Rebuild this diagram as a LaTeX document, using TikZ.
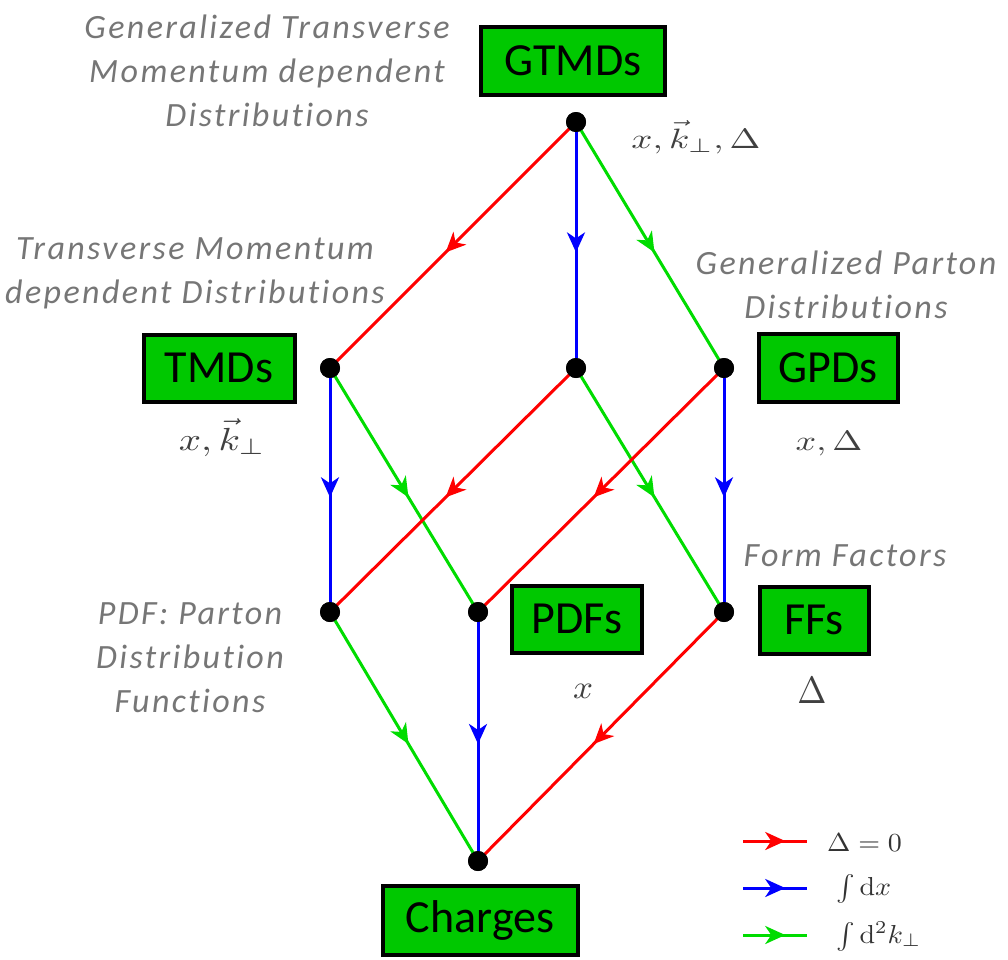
\documentclass[tikz,border=0pt]{standalone}
\usepackage[no-math]{fontspec}
\usepackage{graphicx}
\setmainfont{Carlito}
\newfontfamily\descfont[LetterSpace=7,Ligatures=NoCommon]{Carlito}
\usetikzlibrary{arrows.meta,decorations.markings}
\definecolor{boxgreen}{RGB}{0,200,0}
\definecolor{lred}{RGB}{255,0,0}
\definecolor{lblue}{RGB}{0,0,255}
\definecolor{lgreen}{RGB}{0,220,0}
\definecolor{labgray}{RGB}{118,118,118}
\tikzset{
  dot/.style={circle,fill=black,inner sep=0pt,minimum size=20pt},
  namebox/.style={draw=black,line width=4pt,fill=boxgreen,inner sep=0pt,
    font=\fontsize{46}{52}\selectfont},
  desc/.style={text=labgray,align=center,font=\descfont\fontsize{34}{44}\selectfont\itshape},
  mathlab/.style={text=black!75,anchor=base,inner sep=0pt},
  leglab/.style={text=black!80,anchor=base west,inner sep=0pt},
  conn/.style={line width=3pt,postaction={decorate},
    decoration={markings,mark=at position 0.53 with {\arrow{Stealth[length=20pt,width=18pt,inset=6pt]}}}},
  legconn/.style={line width=3pt,postaction={decorate},
    decoration={markings,mark=at position 0.66 with {\arrow{Stealth[length=20pt,width=18pt,inset=6pt]}}}},
  rd/.style={conn,draw=lred},
  bl/.style={conn,draw=lblue},
  gr/.style={conn,draw=lgreen},
}
\begin{document}
\begin{tikzpicture}[x=1pt,y=-1pt]
\useasboundingbox (0,0) rectangle (1008,959);
% dots
\node[dot] (gtmd) at (576,122) {};
\node[dot] (tmd) at (330,368) {};
\node[dot] (mid) at (576,368) {};
\node[dot] (gpd) at (724,368) {};
\node[dot] (pdfl) at (330,612) {};
\node[dot] (pdfs) at (478,612) {};
\node[dot] (ff) at (724,612) {};
\node[dot] (ch) at (478,861) {};
% connectors
\draw[rd] (gtmd.center) -- (tmd.center);
\draw[bl] (gtmd.center) -- (mid.center);
\draw[gr] (gtmd.center) -- (gpd.center);
\draw[bl] (tmd.center) -- (pdfl.center);
\draw[gr] (tmd.center) -- (pdfs.center);
\draw[rd] (mid.center) -- (pdfl.center);
\draw[gr] (mid.center) -- (ff.center);
\draw[rd] (gpd.center) -- (pdfs.center);
\draw[bl] (gpd.center) -- (ff.center);
\draw[gr] (pdfl.center) -- (ch.center);
\draw[bl] (pdfs.center) -- (ch.center);
\draw[rd] (ff.center) -- (ch.center);
% redraw dots on top
\foreach \n in {gtmd,tmd,mid,gpd,pdfl,pdfs,ff,ch}
  \fill (\n) circle (10pt);
% boxes
\node[namebox,minimum width=184pt,minimum height=68pt] (bgtmd) at (573,61) {GTMDs};
\node[namebox,minimum width=151pt,minimum height=67pt] (btmd) at (219,368) {TMDs};
\node[namebox,minimum width=139pt,minimum height=68pt] (bgpd) at (828,368) {GPDs};
\node[namebox,minimum width=130pt,minimum height=67pt] (bpdf) at (577,619) {PDFs};
\node[namebox,minimum width=109pt,minimum height=67pt] (bff) at (814,620) {FFs};
\node[namebox,minimum width=195pt,minimum height=69pt] (bch) at (480,920) {Charges};
% descriptions
\node[desc] (dgtmd) at (267,71) {Generalized Transverse\\Momentum dependent\\Distributions};
\node[desc] (dtmd) at (195,273) {Transverse Momentum\\dependent Distributions};
\node[desc] (dgpd) at (846,285) {Generalized Parton\\Distributions};
\node[desc] (dff) at (845,556) {Form Factors};
\node[desc] (dpdf) at (190,658) {PDF: Parton\\Distribution\\Functions};
% math labels
\node[mathlab] (mgtmd) at (696,148) {\scalebox{3.7}[2.8]{$x,\vec{k}_\perp,\Delta$}};
\node[mathlab] (mtmd) at (222,450) {\scalebox{3.9}[3.2]{$x,\vec{k}_\perp$}};
\node[mathlab] (mgpd) at (829,450) {\scalebox{3.6}[2.8]{$x,\Delta$}};
\node[mathlab] (mpdf) at (583,698) {\scalebox{3.5}[3.3]{$x$}};
\node[mathlab] (mff) at (812,703) {\scalebox{3.5}[3.8]{$\Delta$}};
% legend
\coordinate (l1a) at (743,841); \coordinate (l1b) at (807,841);
\coordinate (l2a) at (743,888); \coordinate (l2b) at (807,888);
\coordinate (l3a) at (743,935); \coordinate (l3b) at (807,935);
\draw[legconn,draw=lred] (l1a) -- (l1b);
\draw[legconn,draw=lblue] (l2a) -- (l2b);
\draw[legconn,draw=lgreen] (l3a) -- (l3b);
\node[leglab] (t1) at (827,851) {\scalebox{2.8}[2.6]{$\Delta=0$}};
\node[leglab] (t2) at (836,895) {\scalebox{2.8}[2.6]{$\int\mathrm{d}x$}};
\node[leglab] (t3) at (836,943) {\scalebox{2.8}[2.6]{$\int\mathrm{d}^2k_\perp$}};
\end{tikzpicture}
\end{document}
